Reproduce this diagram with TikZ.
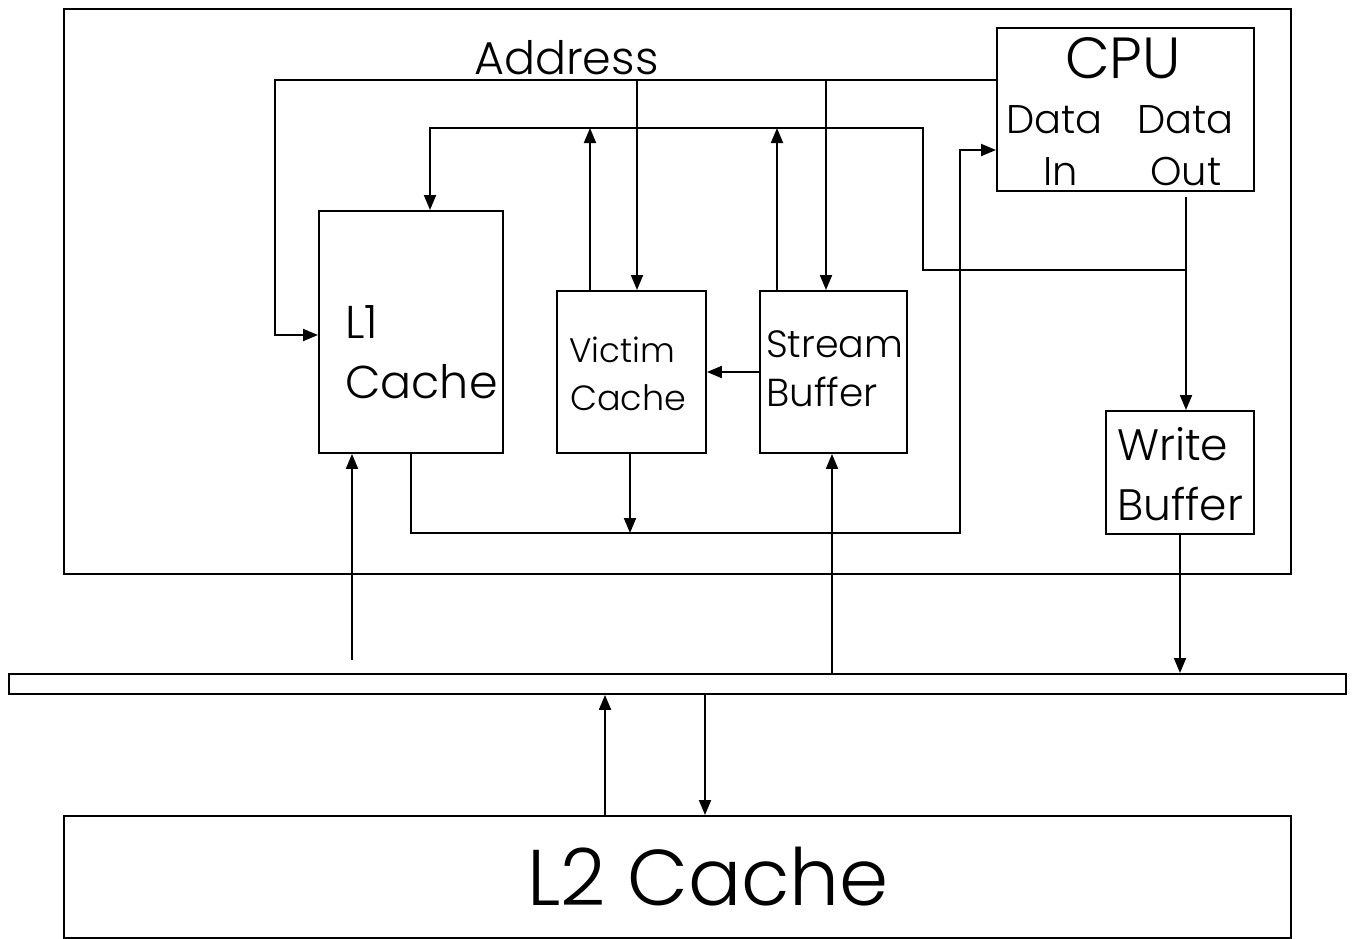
\documentclass[tikz,border=0pt]{standalone}
\usepackage{fontspec}
\IfFontExistsTF{Poppins Light}{\setmainfont{Poppins Light}}{\setmainfont{Poppins}}
\usetikzlibrary{arrows.meta}
\tikzset{
  box/.style={draw, line width=1.9pt, inner sep=0pt, anchor=north west},
  wire/.style={line width=1.9pt},
  arr/.style={wire, -{Triangle[length=15pt,width=12pt]}},
  txt/.style={inner sep=0pt, anchor=base west},
}
\begin{document}
\begin{tikzpicture}[x=1pt,y=-1pt]
\useasboundingbox (0,0) rectangle (1352,938);
% boxes
\node[box, minimum width=1227pt, minimum height=565pt] (chip) at (63,8) {};
\node[box, minimum width=257pt, minimum height=163pt] (cpu) at (996,27) {};
\node[box, minimum width=184pt, minimum height=242pt] (l1) at (318,210) {};
\node[box, minimum width=149pt, minimum height=162pt] (victim) at (556,290) {};
\node[box, minimum width=147pt, minimum height=162pt] (stream) at (759,290) {};
\node[box, minimum width=148pt, minimum height=123pt] (wb) at (1105,410) {};
\node[box, minimum width=1337pt, minimum height=20pt] (bus) at (8,673) {};
\node[box, minimum width=1227pt, minimum height=122pt] (l2) at (63,815) {};
% texts
\node[txt, font=\fontsize{46}{46}\selectfont] (taddr) at (474,74) {Address};
\node[txt, font=\fontsize{58}{58}\selectfont, anchor=base] (tcpu) at (1123,78) {CPU};
\node[txt, font=\fontsize{40}{40}\selectfont] (tdin1) at (1006,133) {Data};
\node[txt, font=\fontsize{40}{40}\selectfont] (tdin2) at (1043,185) {In};
\node[txt, font=\fontsize{40}{40}\selectfont] (tdout1) at (1137,133) {Data};
\node[txt, font=\fontsize{40}{40}\selectfont] (tdout2) at (1150,185) {Out};
\node[txt, font=\fontsize{46}{46}\selectfont] (tl1a) at (345,338) {L1};
\node[txt, font=\fontsize{46}{46}\selectfont] (tl1b) at (345,398) {Cache};
\node[txt, font=\fontsize{34}{34}\selectfont] (tva) at (569,362) {Victim};
\node[txt, font=\fontsize{35}{35}\selectfont] (tvb) at (570,410) {Cache};
\node[txt, font=\fontsize{38}{38}\selectfont] (tsa) at (766,357) {Stream};
\node[txt, font=\fontsize{39}{39}\selectfont] (tsb) at (766,406) {Buffer};
\node[txt, font=\fontsize{44}{44}\selectfont] (twa) at (1117,460) {Write};
\node[txt, font=\fontsize{44}{44}\selectfont] (twb) at (1117,520) {Buffer};
\node[txt, font=\fontsize{79}{79}\selectfont] (tl2) at (527,905) {L2 Cache};
% junction coordinates
\coordinate (adrL) at (275,80);
\coordinate (adrV) at (637,80);
\coordinate (adrS) at (826,80);
\coordinate (dtop) at (923,128);
\coordinate (dturn) at (923,270);
\coordinate (dout) at (1186,270);
\coordinate (dinb) at (960,533);
% address bus
\draw[arr] (cpu.west |- adrL) -- (adrL) -- (275,335) -- (l1.west |- 0,335);
\draw[arr] (adrV) -- (adrV |- victim.north);
\draw[arr] (adrS) -- (adrS |- stream.north);
% data from CPU out to L1
\draw[arr] (1186,197) -- (1186,0 |- wb.north);
\draw[arr] (dout) -- (dturn) -- (dtop) -- (430,128) -- (430,0 |- l1.north);
\draw[arr] (590,0 |- victim.north) -- (590,128);
\draw[arr] (777,0 |- stream.north) -- (777,128);
\draw[arr] (stream.west |- 0,372) -- (victim.east |- 0,372);
% data into CPU
\draw[arr] (411,0 |- l1.south) -- (411,533) -- (dinb) -- (960,150) -- (cpu.west |- 0,150);
\draw[arr] (630,0 |- victim.south) -- (630,533);
% bus connections
\draw[arr] (1180,0 |- wb.south) -- (1180,0 |- bus.north);
\draw[arr] (352,660) -- (352,0 |- l1.south);
\draw[arr] (832,0 |- bus.north) -- (832,0 |- stream.south);
\draw[arr] (605,0 |- l2.north) -- (605,0 |- bus.south);
\draw[arr] (705,0 |- bus.south) -- (705,0 |- l2.north);
\end{tikzpicture}
\end{document}
